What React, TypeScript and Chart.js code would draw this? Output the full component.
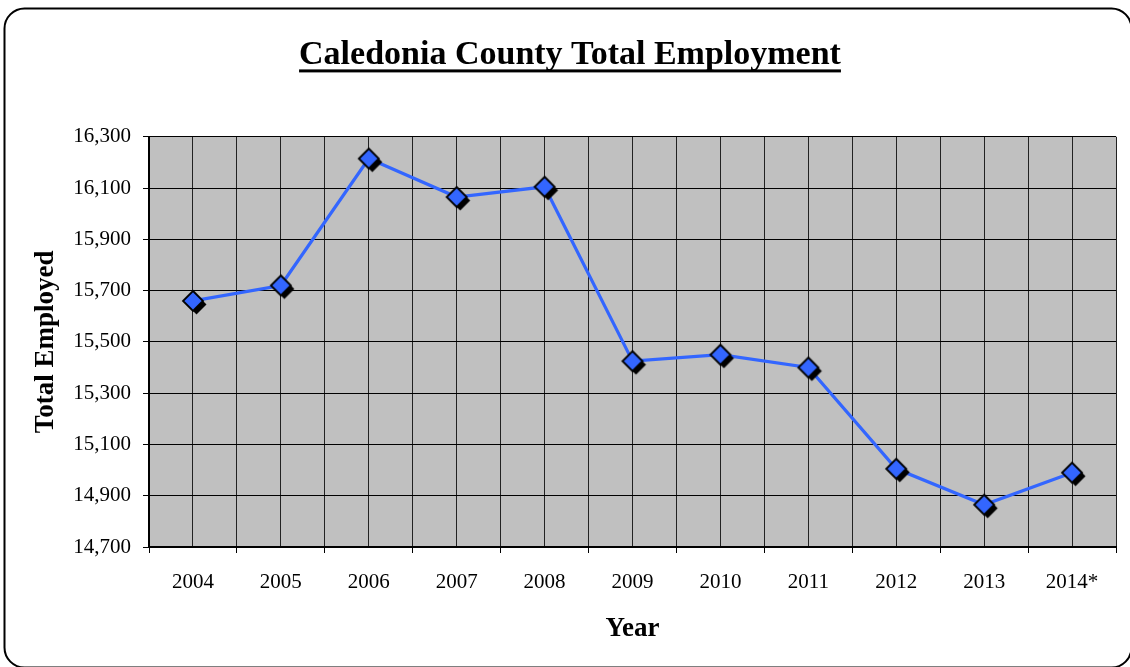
import React, { useEffect, useRef } from 'react';
import { Chart, registerables } from 'chart.js';

Chart.register(...registerables);

const TITLE = 'Caledonia County Total Employment';
const categories = ['2004', '2005', '2006', '2007', '2008', '2009', '2010', '2011', '2012', '2013', '2014*'];
const employed = [15660, 15720, 16215, 16065, 16105, 15425, 15450, 15400, 15005, 14865, 14990];
const yMin = 14700;
const yMax = 16300;
const yStep = 200;

const FONT = "'Liberation Serif', 'Times New Roman', serif";
const BLUE = '#3366FF';
const TITLE_SIZE = 34;
const TITLE_PAD_TOP = 35;

function makeMarker(): HTMLCanvasElement {
  const c = document.createElement('canvas');
  c.width = 32;
  c.height = 32;
  const g = c.getContext('2d')!;
  const r = 10;
  const diamond = (cx: number, cy: number) => {
    g.beginPath();
    g.moveTo(cx, cy - r);
    g.lineTo(cx + r, cy);
    g.lineTo(cx, cy + r);
    g.lineTo(cx - r, cy);
    g.closePath();
  };
  diamond(19.5, 19.5);
  g.fillStyle = '#000';
  g.fill();
  diamond(16, 16);
  g.fillStyle = BLUE;
  g.fill();
  g.lineWidth = 1.8;
  g.strokeStyle = '#000';
  g.stroke();
  return c;
}

const framePlugin = {
  id: 'frame',
  beforeDraw(chart: any) {
    const { ctx, width, height, chartArea } = chart;
    ctx.save();
    ctx.fillStyle = '#fff';
    ctx.fillRect(0, 0, width, height);
    ctx.beginPath();
    (ctx as any).roundRect(4.5, 8.5, 1127, 659, 20);
    ctx.lineWidth = 2;
    ctx.strokeStyle = '#000';
    ctx.stroke();
    ctx.fillStyle = '#C0C0C0';
    ctx.fillRect(chartArea.left, chartArea.top, chartArea.right - chartArea.left, chartArea.bottom - chartArea.top);
    ctx.restore();
  },
  afterDraw(chart: any) {
    const tb = chart.titleBlock;
    if (!tb) return;
    const ctx = chart.ctx;
    ctx.save();
    ctx.font = `bold ${TITLE_SIZE}px ${FONT}`;
    const w = ctx.measureText(TITLE).width;
    const cx = (tb.left + tb.right) / 2;
    const cy = tb.top + TITLE_PAD_TOP + (TITLE_SIZE * 1.2) / 2;
    ctx.fillStyle = '#000';
    ctx.fillRect(cx - w / 2, cy + 14, w, 3);
    ctx.restore();
  },
};

export default function App() {
  const ref = useRef<HTMLCanvasElement>(null);
  useEffect(() => {
    if (!ref.current) return;
    const marker = makeMarker();
    const chart = new Chart(ref.current, {
      type: 'line',
      data: {
        datasets: [
          {
            label: 'Total Employed',
            data: employed.map((v, i) => ({ x: i, y: v })),
            borderColor: BLUE,
            backgroundColor: BLUE,
            borderWidth: 3.2,
            pointStyle: marker as any,
            pointRadius: 10,
            tension: 0,
            clip: false as any,
          },
        ],
      },
      options: {
        responsive: false,
        animation: false,
        devicePixelRatio: 1,
        layout: { padding: { left: 24, right: 14, top: 0, bottom: 0 } },
        plugins: {
          legend: { display: false },
          tooltip: { enabled: false },
          title: {
            display: true,
            text: TITLE,
            color: '#000',
            font: { family: FONT, size: TITLE_SIZE, weight: 'bold' },
            padding: { top: TITLE_PAD_TOP, bottom: 61 },
          },
        },
        scales: {
          x: {
            type: 'linear',
            min: -0.5,
            max: categories.length - 0.5,
            afterFit: (s: any) => {
              s.height = 120;
              s.paddingLeft = 0;
              s.paddingRight = 0;
            },
            afterBuildTicks: (s: any) => {
              const t: any[] = [];
              for (let v = -0.5; v <= categories.length - 0.5 + 1e-9; v += 0.5) t.push({ value: v });
              s.ticks = t;
            },
            ticks: {
              autoSkip: false,
              maxRotation: 0,
              minRotation: 0,
              padding: 17,
              color: '#000',
              font: { family: FONT, size: 21 },
              callback: (v: any) => (Number.isInteger(v) ? categories[v] : ''),
            },
            grid: {
              color: '#222',
              lineWidth: 1,
              tickLength: 6,
              tickColor: (c: any) => (c.tick && Number.isInteger(c.tick.value) ? 'rgba(0,0,0,0)' : '#000'),
            },
            border: { display: true, color: '#000', width: 2 },
            title: {
              display: true,
              text: 'Year',
              color: '#000',
              font: { family: FONT, size: 27, weight: 'bold' },
              padding: { top: 0, bottom: 22 },
            },
          },
          y: {
            min: yMin,
            max: yMax,
            afterFit: (s: any) => {
              s.width = 125;
            },
            ticks: {
              stepSize: yStep,
              padding: 12,
              color: '#000',
              font: { family: FONT, size: 21 },
              callback: (v: any) => Number(v).toLocaleString('en-US'),
            },
            grid: { color: '#000', lineWidth: 1, tickLength: 6, tickColor: '#000' },
            border: { display: true, color: '#000', width: 2 },
            title: {
              display: true,
              text: 'Total Employed',
              color: '#000',
              font: { family: FONT, size: 27, weight: 'bold' },
              padding: { top: 6, bottom: 0 },
            },
          },
        },
      },
      plugins: [framePlugin],
    });
    return () => chart.destroy();
  }, []);
  return (
    <div style={{ position: 'absolute', left: 0, top: 0, width: 1130, height: 667 }}>
      <canvas ref={ref} width={1130} height={667} style={{ width: 1130, height: 667, display: 'block' }} />
    </div>
  );
}
